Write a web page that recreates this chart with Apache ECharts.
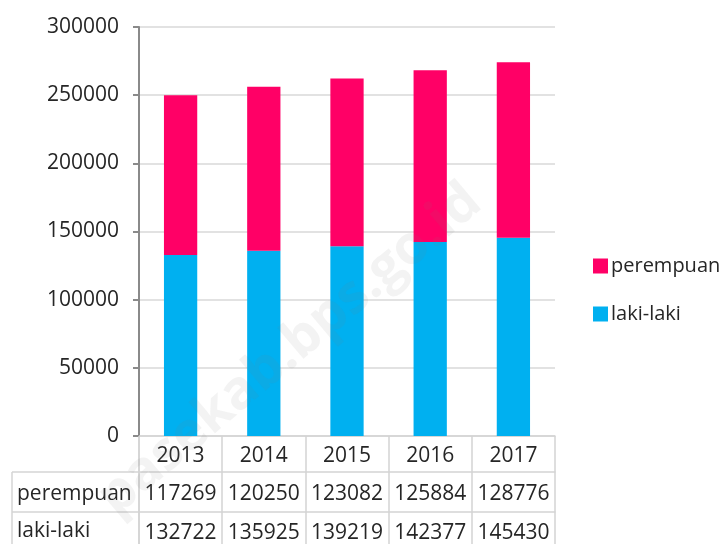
<!DOCTYPE html>
<html>
<head>
<meta charset="utf-8">
<script src="https://cdn.jsdelivr.net/npm/echarts@6/dist/echarts.min.js"></script>
<style>html,body{margin:0;padding:0;background:#fff}#c{width:727px;height:544px}</style>
</head>
<body>
<div id="c"></div>
<script>
var years = ['2013', '2014', '2015', '2016', '2017'];
var perempuan = [117269, 120250, 123082, 125884, 128776];
var lakilaki = [132722, 135925, 139219, 142377, 145430];
var seriesNames = ['perempuan', 'laki-laki'];
var yTicks = { min: 0, max: 300000, interval: 50000 };
var watermark = 'pasekab.bps.go.id';

var FONT = 'Open Sans';
var TXT = '#262626';
var GRID_C = '#d4d4d4';

var chart = echarts.init(document.getElementById('c'), null, { renderer: 'canvas' });

function tableAxis(values, offset, tickLen, margin) {
  return {
    type: 'category',
    data: years,
    position: 'bottom',
    offset: offset,
    gridIndex: 0,
    axisLine: { show: true, lineStyle: { color: GRID_C, width: 1.5 } },
    axisTick: { show: true, interval: 0, length: tickLen, lineStyle: { color: GRID_C, width: 1.5 } },
    axisLabel: {
      interval: 0, margin: margin, color: TXT, fontFamily: FONT, fontSize: 21,
      formatter: function (v, i) { return values ? String(values[i]) : v; }
    },
    splitLine: { show: false }
  };
}

chart.setOption({
  animation: false,
  backgroundColor: '#ffffff',
  grid: { left: 139, right: 172, top: 27, bottom: 108 },
  legend: {
    orient: 'vertical',
    left: 588,
    top: 251,
    itemWidth: 15,
    itemHeight: 15,
    itemGap: 28,
    data: ['perempuan', 'laki-laki'],
    icon: 'rect',
    textStyle: { color: TXT, fontFamily: FONT, fontSize: 20, padding: [0, 0, 0, -2] }
  },
  xAxis: [
    tableAxis(null, 0, 36, 10),
    tableAxis(perempuan, 36, 40, 12),
    tableAxis(lakilaki, 76, 40, 11)
  ],
  yAxis: {
    type: 'value',
    min: yTicks.min, max: yTicks.max, interval: yTicks.interval,
    axisLine: { show: true, lineStyle: { color: '#8a8a8a', width: 2 } },
    axisTick: { show: true, length: 6, lineStyle: { color: '#8a8a8a', width: 2 } },
    axisLabel: { color: TXT, fontFamily: FONT, fontSize: 21, margin: 20, formatter: function (v) { return String(v); } },
    splitLine: { show: true, lineStyle: { color: '#d9d9d9', width: 1.5 } }
  },
  series: [
    {
      name: seriesNames[1], type: 'bar', stack: 'total', xAxisIndex: 0,
      data: lakilaki, barWidth: '40%', itemStyle: { color: '#00B0F0' }
    },
    {
      name: seriesNames[0], type: 'bar', stack: 'total', xAxisIndex: 0,
      data: perempuan, barWidth: '40%', itemStyle: { color: '#FF0066' }
    }
  ],
  graphic: [
    { type: 'line', shape: { x1: 12, y1: 472, x2: 139, y2: 472 }, style: { stroke: GRID_C, lineWidth: 1.5 } },
    { type: 'line', shape: { x1: 12, y1: 512, x2: 139, y2: 512 }, style: { stroke: GRID_C, lineWidth: 1.5 } },
    { type: 'line', shape: { x1: 12, y1: 472, x2: 12, y2: 544 }, style: { stroke: GRID_C, lineWidth: 1.5 } },
    { type: 'line', shape: { x1: 139, y1: 436, x2: 139, y2: 544 }, style: { stroke: GRID_C, lineWidth: 1.5 } },
    { type: 'text', left: 17, top: 484, style: { text: seriesNames[0], fill: TXT, font: '21px "Open Sans"' } },
    { type: 'text', left: 17, top: 521, style: { text: seriesNames[1], fill: TXT, font: '21px "Open Sans"' } },
    {
      type: 'text', x: 290, y: 350, rotation: 0.70, z: 100,
      style: { text: watermark, fill: 'rgba(120,120,120,0.09)', font: 'bold 54px "Open Sans"', align: 'center', verticalAlign: 'middle' }
    }
  ]
});
</script>
</body>
</html>
